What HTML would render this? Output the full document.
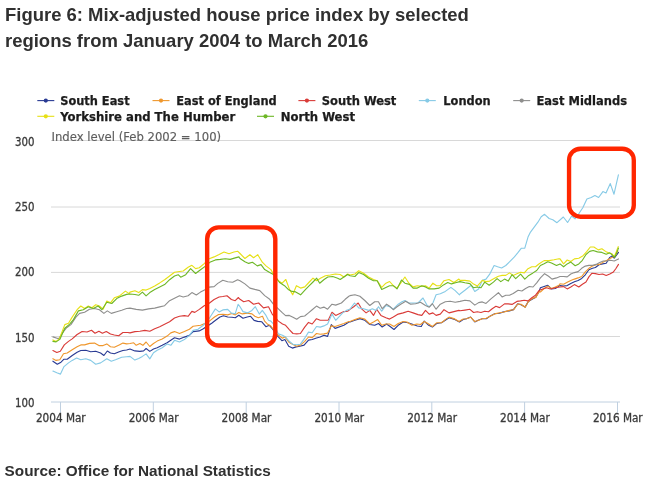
<!DOCTYPE html>
<html lang="en"><head><meta charset="utf-8"><title>Figure 6: Mix-adjusted house price index</title>
<style>
html,body{margin:0;padding:0;background:#fff;}
body{width:647px;height:485px;overflow:hidden;}
svg{display:block;}
.title{font-family:"Liberation Sans",Arial,Helvetica,sans-serif;font-weight:bold;font-size:18.48px;fill:#303030;}
.source{font-family:"Liberation Sans",Arial,Helvetica,sans-serif;font-weight:bold;font-size:15.3px;fill:#303030;}
.leg{font-family:"DejaVu Sans Condensed","DejaVu Sans","Liberation Sans",sans-serif;font-weight:bold;font-size:13px;fill:#1c1c1c;stroke:#1c1c1c;stroke-width:0.25;}
.ax{font-family:"DejaVu Sans Condensed","DejaVu Sans","Liberation Sans",sans-serif;font-size:11.5px;fill:#3a3a3a;stroke:#3a3a3a;stroke-width:0.28;}
.axt{font-family:"DejaVu Sans Condensed","DejaVu Sans","Liberation Sans",sans-serif;font-size:12.9px;fill:#5e5e5e;stroke:#5e5e5e;stroke-width:0.15;}
.ln{fill:none;stroke-width:1.12;stroke-linejoin:round;stroke-linecap:round;}
</style></head><body>
<svg width="647" height="485" viewBox="0 0 647 485">
<rect x="0" y="0" width="647" height="485" fill="#fff"/>
<text class="title" x="5" y="20.5">Figure 6: Mix-adjusted house price index by selected</text>
<text class="title" x="5" y="46.7">regions from January 2004 to March 2016</text>
<g>
<line x1="37.3" y1="100.6" x2="54.3" y2="100.6" stroke="#293A93" stroke-width="1.1"/>
<circle cx="45.8" cy="100.6" r="2.1" fill="#293A93"/>
<text class="leg" x="60.2" y="104.8" textLength="69.4" lengthAdjust="spacingAndGlyphs">South East</text>
<line x1="152.5" y1="100.6" x2="169.5" y2="100.6" stroke="#EF972D" stroke-width="1.1"/>
<circle cx="161.0" cy="100.6" r="2.1" fill="#EF972D"/>
<text class="leg" x="176.2" y="104.8" textLength="100.5" lengthAdjust="spacingAndGlyphs">East of England</text>
<line x1="298.4" y1="100.6" x2="315.4" y2="100.6" stroke="#D93B38" stroke-width="1.1"/>
<circle cx="306.9" cy="100.6" r="2.1" fill="#D93B38"/>
<text class="leg" x="321.7" y="104.8" textLength="74.7" lengthAdjust="spacingAndGlyphs">South West</text>
<line x1="418.8" y1="100.6" x2="435.8" y2="100.6" stroke="#86CAE6" stroke-width="1.1"/>
<circle cx="427.3" cy="100.6" r="2.1" fill="#86CAE6"/>
<text class="leg" x="443.3" y="104.8" textLength="47.4" lengthAdjust="spacingAndGlyphs">London</text>
<line x1="513.2" y1="100.6" x2="530.2" y2="100.6" stroke="#8E8E8D" stroke-width="1.1"/>
<circle cx="521.7" cy="100.6" r="2.1" fill="#8E8E8D"/>
<text class="leg" x="536.5" y="104.8" textLength="90.5" lengthAdjust="spacingAndGlyphs">East Midlands</text>
<line x1="37.3" y1="116.3" x2="54.3" y2="116.3" stroke="#E7E015" stroke-width="1.1"/>
<circle cx="45.8" cy="116.3" r="2.1" fill="#E7E015"/>
<text class="leg" x="60.2" y="120.5" textLength="175" lengthAdjust="spacingAndGlyphs">Yorkshire and The Humber</text>
<line x1="257.0" y1="116.3" x2="274.0" y2="116.3" stroke="#6DB726" stroke-width="1.1"/>
<circle cx="265.5" cy="116.3" r="2.1" fill="#6DB726"/>
<text class="leg" x="280.7" y="120.5" textLength="74.3" lengthAdjust="spacingAndGlyphs">North West</text>
</g>
<g stroke="#D8D8D8" stroke-width="1">
<line x1="51" y1="140.5" x2="620" y2="140.5"/>
<line x1="51" y1="207.0" x2="620" y2="207.0"/>
<line x1="51" y1="272.4" x2="620" y2="272.4"/>
<line x1="51" y1="336.5" x2="620" y2="336.5"/>
</g>
<text class="axt" x="51.5" y="141.2" textLength="169.6" lengthAdjust="spacingAndGlyphs">Index level (Feb 2002 = 100)</text>
<text class="ax" x="15.1" y="145.9" textLength="19.5" lengthAdjust="spacingAndGlyphs">300</text>
<text class="ax" x="15.1" y="210.7" textLength="19.5" lengthAdjust="spacingAndGlyphs">250</text>
<text class="ax" x="15.1" y="275.85" textLength="19.5" lengthAdjust="spacingAndGlyphs">200</text>
<text class="ax" x="15.1" y="341.6" textLength="19.5" lengthAdjust="spacingAndGlyphs">150</text>
<text class="ax" x="15.1" y="406.75" textLength="19.5" lengthAdjust="spacingAndGlyphs">100</text>
<g stroke="#C0D0E0" stroke-width="1">
<line x1="51" y1="402" x2="620" y2="402"/>
<line x1="60.5" y1="402" x2="60.5" y2="412.8"/>
<line x1="153.3" y1="402" x2="153.3" y2="412.8"/>
<line x1="246.2" y1="402" x2="246.2" y2="412.8"/>
<line x1="339.0" y1="402" x2="339.0" y2="412.8"/>
<line x1="431.8" y1="402" x2="431.8" y2="412.8"/>
<line x1="524.6" y1="402" x2="524.6" y2="412.8"/>
<line x1="617.5" y1="402" x2="617.5" y2="412.8"/>
</g>
<text class="ax" x="35.9" y="421.7" textLength="49.8" lengthAdjust="spacingAndGlyphs">2004 Mar</text>
<text class="ax" x="128.7" y="421.7" textLength="49.8" lengthAdjust="spacingAndGlyphs">2006 Mar</text>
<text class="ax" x="221.6" y="421.7" textLength="49.8" lengthAdjust="spacingAndGlyphs">2008 Mar</text>
<text class="ax" x="314.4" y="421.7" textLength="49.8" lengthAdjust="spacingAndGlyphs">2010 Mar</text>
<text class="ax" x="407.2" y="421.7" textLength="49.8" lengthAdjust="spacingAndGlyphs">2012 Mar</text>
<text class="ax" x="500.0" y="421.7" textLength="49.8" lengthAdjust="spacingAndGlyphs">2014 Mar</text>
<text class="ax" x="592.9" y="421.7" textLength="49.8" lengthAdjust="spacingAndGlyphs">2016 Mar</text>
<polyline class="ln" stroke="#293A93" points="52.9,361.2 57.3,364.2 61.0,362.2 64.0,359.2 67.2,359.2 72.2,355.5 77.1,352.3 80.8,350.5 85.8,350.3 90.7,351.8 95.7,351.3 100.6,353.0 103.9,355.5 107.3,351.0 110.5,353.0 114.3,353.8 119.2,351.8 122.9,350.5 126.6,350.0 130.0,349.0 134.9,350.9 139.9,351.4 143.6,350.9 146.1,348.5 149.8,351.4 153.5,349.0 157.2,347.7 162.2,345.3 167.1,342.8 170.8,340.3 174.5,337.8 179.5,339.1 184.4,337.1 189.4,335.4 193.1,331.6 199.2,330.9 203.3,328.8 207.5,326.0 211.7,323.2 215.9,320.0 220.0,317.0 223.5,315.8 227.7,317.0 231.9,317.2 235.3,317.7 238.8,315.3 243.0,318.3 247.2,317.0 250.6,316.3 254.1,320.4 257.6,321.4 261.8,321.8 265.9,326.7 269.4,325.3 272.9,329.5 277.1,335.7 281.9,340.7 284.9,339.5 288.7,346.3 292.4,348.1 296.1,346.9 299.8,346.3 304.1,345.1 308.5,340.1 312.2,339.5 316.5,338.0 320.2,337.0 323.9,335.2 327.6,336.4 331.3,324.6 335.1,328.4 343.9,325.3 348.9,322.0 350.0,322.0 354.9,320.3 359.9,318.6 364.8,320.3 369.8,324.5 374.7,325.3 378.5,323.5 382.2,327.0 386.6,324.0 390.1,326.5 394.0,329.5 398.2,325.3 403.2,322.0 408.1,322.8 413.1,324.5 417.3,326.0 421.3,326.5 424.2,321.1 428.7,325.3 432.4,327.0 436.6,323.5 441.5,322.8 445.3,320.3 449.0,317.8 453.9,319.1 459.4,322.0 463.2,319.5 466.5,318.7 470.6,317.0 474.8,322.0 478.1,320.3 482.2,318.7 486.3,318.7 490.4,315.9 494.6,313.7 499.5,313.2 502.8,312.1 506.1,311.3 509.4,310.9 513.5,309.6 517.7,303.8 521.0,304.7 525.1,307.1 528.4,301.4 532.5,298.9 535.8,297.2 539.1,291.5 540.4,287.8 544.1,286.5 547.8,285.3 551.5,289.0 555.3,288.5 559.0,286.1 560.0,285.6 563.6,286.0 567.2,285.6 570.8,283.4 574.4,281.7 578.1,280.5 581.7,278.4 585.3,274.8 588.9,269.7 592.5,268.3 595.4,267.5 599.0,264.7 602.6,263.9 606.2,263.2 609.8,257.4 612.0,256.0 614.2,258.2 616.3,255.3 618.5,252.4"/>
<polyline class="ln" stroke="#EF972D" points="52.9,358.7 56.1,360.4 59.8,359.7 63.5,353.8 67.2,353.0 72.2,349.8 77.1,346.8 80.8,344.9 84.6,344.9 89.5,343.4 94.5,343.1 98.9,345.6 103.1,345.6 106.8,343.9 110.5,346.8 114.3,347.3 119.2,344.9 122.9,343.1 126.6,343.9 130.0,343.5 133.7,342.8 136.2,345.3 139.9,343.5 142.9,345.3 146.1,342.0 149.8,346.5 153.5,343.5 157.2,341.1 162.2,339.1 167.1,336.1 170.8,332.9 174.5,331.6 179.5,333.6 184.4,331.6 189.4,329.2 193.1,326.2 200.6,325.3 205.4,323.2 210.3,320.4 214.5,317.0 218.6,314.5 222.8,314.2 227.7,314.9 231.9,313.5 235.3,314.9 238.8,312.5 242.3,313.9 247.2,313.1 252.0,313.9 254.8,316.3 258.3,317.7 262.5,316.3 264.6,321.1 267.3,323.9 270.8,326.0 273.6,329.5 277.1,334.3 282.5,338.2 284.9,336.8 289.3,342.6 293.0,344.4 296.7,346.3 300.4,345.1 304.7,341.3 308.5,337.0 312.2,337.6 316.5,333.5 320.2,334.3 323.9,333.9 327.6,333.1 331.3,325.9 335.1,326.5 343.9,323.5 348.9,321.5 350.0,321.5 354.9,319.6 359.9,317.8 364.8,319.1 369.8,324.0 373.5,322.0 377.7,319.6 381.7,325.3 385.9,324.0 389.6,324.0 394.0,326.5 398.2,323.5 403.2,321.5 406.9,322.0 411.9,325.3 416.8,324.0 420.5,324.5 424.2,321.5 427.9,323.5 432.4,326.5 436.6,322.8 441.5,322.8 445.3,319.6 449.0,317.1 453.9,318.6 458.9,321.5 463.2,319.0 466.5,318.8 470.6,317.2 474.8,321.5 478.1,320.5 482.2,318.8 486.3,318.2 490.4,316.0 494.6,313.9 499.5,312.7 502.8,312.2 506.1,311.4 509.4,310.4 513.5,309.8 517.7,304.0 521.0,304.2 525.1,307.3 528.4,301.5 532.5,298.4 535.8,297.4 539.1,291.6 540.4,292.0 544.1,288.5 547.8,286.1 551.5,288.5 555.3,287.0 559.0,285.3 560.0,283.7 563.6,284.2 567.2,282.3 570.8,280.5 574.4,279.1 578.1,277.9 581.7,276.5 585.3,271.9 588.9,268.3 592.5,266.1 596.1,264.7 599.7,264.4 603.3,262.1 606.9,260.3 610.5,258.2 613.4,256.7 615.6,255.3 617.8,250.9"/>
<polyline class="ln" stroke="#D93B38" points="52.9,350.5 56.8,352.5 60.3,351.3 64.3,344.9 68.5,341.4 72.2,338.9 77.1,334.5 82.1,331.5 87.0,332.0 91.5,330.2 95.0,333.2 98.9,331.2 102.4,333.2 106.3,331.5 110.5,334.0 114.3,335.0 118.7,335.7 122.9,332.5 127.9,332.5 130.0,332.9 134.9,331.6 139.9,331.2 144.8,330.4 149.8,331.2 154.7,328.7 159.7,326.7 164.6,324.2 169.6,321.8 174.5,318.0 179.5,316.3 184.4,315.6 188.1,316.3 191.9,311.4 194.8,312.4 199.3,309.4 204.2,305.7 209.2,303.2 214.1,299.5 219.1,297.0 222.8,296.5 227.0,295.8 231.4,299.5 235.2,300.7 238.4,297.5 240.0,299.3 243.7,301.8 248.7,300.5 253.6,304.2 258.6,303.0 263.5,307.9 268.5,306.7 272.2,314.1 278.4,321.1 282.5,324.0 285.6,325.3 289.3,329.6 293.0,333.5 296.7,333.9 300.4,333.5 304.7,327.1 308.5,322.4 312.2,324.0 316.5,318.7 320.2,320.3 323.9,320.3 328.2,320.3 332.0,312.3 335.7,315.4 343.9,311.6 347.6,311.2 350.0,309.2 353.7,306.7 358.2,303.0 361.9,309.2 366.1,312.9 369.8,310.4 373.5,315.4 376.7,309.2 380.9,315.4 385.9,317.8 389.6,319.1 393.3,317.1 398.2,314.1 403.2,312.9 408.1,311.2 413.1,312.9 418.0,314.6 421.8,315.4 425.5,310.4 429.2,314.1 432.9,312.9 436.1,315.4 440.3,314.1 444.0,309.7 449.0,312.9 453.9,311.6 458.9,310.4 460.0,310.8 464.9,310.1 469.9,309.3 473.6,312.5 477.3,311.8 481.0,312.5 484.7,311.3 488.5,311.8 492.2,308.8 495.9,306.3 499.6,307.6 504.5,303.9 508.2,303.9 512.0,304.4 516.9,301.4 520.6,300.9 524.3,300.2 528.0,300.9 531.8,297.7 535.5,295.2 539.2,290.3 542.9,289.0 546.6,287.8 550.3,289.0 555.3,287.8 560.0,287.0 563.6,286.6 567.2,288.9 570.8,287.0 574.4,284.6 578.8,287.0 582.4,284.2 586.0,282.0 588.9,276.9 591.8,273.3 595.4,273.6 599.0,274.5 602.6,274.0 606.2,275.5 609.8,274.0 613.4,271.9 615.6,269.0 618.5,264.4"/>
<polyline class="ln" stroke="#86CAE6" points="52.9,371.1 56.8,372.8 60.5,374.1 64.0,366.6 68.5,362.9 72.2,360.4 76.6,358.0 80.8,359.7 85.8,358.7 90.7,360.4 95.7,364.2 100.6,362.9 106.8,358.7 111.3,361.2 115.5,359.7 121.7,357.2 126.6,356.7 130.0,356.4 134.9,360.1 138.7,358.4 142.4,356.4 146.1,353.9 149.8,358.9 153.5,352.7 157.2,350.2 162.2,347.7 167.1,344.0 170.8,345.3 174.5,340.3 179.5,342.0 184.4,339.6 189.4,335.4 193.1,330.4 198.0,329.2 203.0,325.5 207.9,320.5 211.6,314.8 215.4,308.9 219.1,311.9 222.8,309.9 227.7,309.4 231.4,313.1 235.2,313.8 238.1,304.4 240.0,306.7 243.0,311.6 247.4,312.9 251.9,310.4 255.3,306.7 259.3,314.1 262.3,310.4 266.0,315.4 268.5,320.3 270.9,321.1 273.4,324.0 278.4,333.9 282.5,335.2 285.6,337.0 289.3,341.3 293.0,344.4 296.7,344.7 300.4,344.2 304.7,338.2 308.5,332.1 312.2,332.7 316.5,326.5 320.2,327.1 323.9,325.9 327.6,324.0 332.0,314.1 335.7,320.3 342.7,312.9 346.4,310.4 350.0,309.2 354.5,303.0 358.7,307.9 363.6,308.7 368.6,310.4 372.3,308.7 376.0,310.4 378.5,306.7 381.7,311.2 385.9,305.5 389.6,306.7 393.3,309.2 398.2,304.2 402.0,301.8 404.9,300.5 408.9,303.0 413.1,303.0 418.0,303.0 423.0,298.0 427.2,305.5 429.7,306.7 432.9,303.0 436.1,294.8 440.3,293.8 445.3,291.4 450.9,287.4 455.2,290.6 459.4,294.8 460.0,294.0 464.9,290.3 471.1,285.3 474.8,291.5 478.6,289.0 482.3,280.4 486.0,279.1 489.7,274.2 494.1,265.5 497.6,266.8 501.6,268.0 505.8,265.5 509.5,261.8 514.4,256.9 518.1,252.4 521.4,248.2 524.8,248.2 528.0,237.1 530.5,232.1 534.2,227.2 537.9,222.2 541.2,216.8 544.6,214.3 549.1,218.5 552.8,219.7 557.0,222.7 563.3,217.0 567.6,222.5 571.7,216.0 575.0,218.8 579.1,213.3 582.8,207.7 586.9,199.0 591.2,197.5 594.9,195.6 598.6,197.5 602.9,191.6 606.0,192.9 610.3,183.6 614.0,194.2 618.4,174.9"/>
<polyline class="ln" stroke="#8E8E8D" points="52.9,336.9 58.6,338.7 62.3,333.2 66.0,328.3 70.9,324.6 75.9,317.1 79.6,313.4 84.6,312.2 89.5,309.2 94.5,308.5 99.4,309.7 103.9,313.4 107.3,310.9 111.3,313.4 116.7,311.7 121.7,310.2 126.6,308.5 130.0,308.1 136.2,309.4 142.4,310.1 148.6,308.9 154.7,308.1 159.7,306.9 164.6,305.7 169.6,300.7 174.5,298.2 179.5,295.8 183.2,297.0 188.1,295.8 191.9,292.6 196.3,295.0 200.5,292.1 205.5,289.6 209.2,287.1 214.1,286.6 217.8,283.4 222.8,280.2 227.7,281.7 232.7,282.2 237.6,279.7 240.0,280.7 244.9,283.9 249.9,288.1 254.8,289.4 259.8,290.6 264.7,295.6 269.7,299.3 273.4,304.2 282.5,312.9 285.6,315.6 289.3,315.4 293.0,317.2 296.7,319.3 300.4,316.6 304.7,316.0 308.5,312.9 312.2,309.8 316.5,306.1 320.2,308.3 323.9,307.1 327.6,309.2 332.0,304.2 335.7,305.1 341.4,303.0 345.2,299.3 348.9,296.3 350.0,295.6 354.9,294.8 359.9,296.3 364.8,300.5 369.8,305.5 374.7,301.8 378.5,301.8 382.2,308.7 386.6,304.2 389.6,306.2 393.3,309.7 397.0,306.7 400.7,304.2 405.7,301.3 410.6,304.2 415.6,303.7 420.5,302.2 425.5,305.5 429.2,307.2 432.4,303.7 436.1,309.2 440.3,304.2 445.3,301.8 450.2,301.3 455.2,302.2 460.0,301.4 464.9,300.2 469.9,300.9 474.8,305.1 478.6,302.6 482.3,301.9 486.0,303.4 490.9,298.9 494.6,295.9 498.4,292.7 502.1,296.9 505.8,295.2 509.5,295.2 513.2,293.5 518.1,290.3 521.9,291.0 525.6,288.5 529.3,286.5 533.0,287.0 536.7,282.8 540.4,277.9 544.6,273.7 548.6,276.2 552.0,279.1 556.5,277.9 560.0,276.5 563.6,276.5 567.2,276.9 570.8,274.0 574.4,272.6 578.1,271.6 581.7,268.3 585.3,266.1 588.9,265.4 592.5,265.4 596.1,264.4 599.7,262.5 603.3,261.0 606.9,261.0 610.5,260.3 614.2,261.0 616.3,260.0 618.5,258.9"/>
<polyline class="ln" stroke="#E7E015" points="52.9,339.9 56.1,341.4 59.3,338.9 64.8,324.6 68.5,323.3 72.2,317.1 77.1,309.7 80.8,306.0 84.6,308.5 88.3,306.0 92.0,307.7 95.7,304.8 99.4,306.0 103.1,309.2 106.8,301.0 110.5,302.8 114.3,297.8 119.2,296.1 125.4,291.1 129.1,293.6 130.0,292.1 134.9,290.8 138.7,292.6 142.4,289.6 146.1,290.1 149.8,288.4 154.7,285.9 159.7,282.9 164.6,279.7 169.6,276.0 174.5,272.3 179.5,271.5 183.2,271.0 188.1,267.3 191.9,265.3 195.6,268.6 199.3,267.8 204.2,263.6 209.2,258.7 214.1,256.9 219.1,254.5 224.0,252.0 229.0,253.7 233.9,252.0 237.6,251.2 240.0,253.5 244.9,258.5 249.9,254.7 253.6,257.7 257.8,254.7 262.3,262.2 266.0,265.9 270.9,269.6 273.4,274.0 278.4,280.7 282.1,283.2 285.8,279.5 289.5,289.4 292.7,294.8 296.4,285.7 300.6,288.1 304.8,286.9 309.3,282.0 313.0,278.2 316.7,280.7 320.4,278.2 325.4,275.8 330.3,275.0 335.3,274.0 340.2,274.5 343.9,277.0 347.6,274.0 350.0,275.0 354.9,274.0 358.7,270.8 363.6,273.3 368.6,277.0 373.5,279.5 377.2,280.7 381.7,287.4 385.9,283.2 389.6,281.5 393.3,285.7 397.0,288.1 400.7,283.2 404.9,277.0 408.9,283.2 413.1,286.9 417.3,285.7 421.8,286.4 425.5,285.7 429.2,288.1 432.9,283.2 436.6,285.7 440.3,285.7 444.0,280.7 449.0,279.5 453.9,282.5 458.9,279.0 460.0,280.4 464.9,280.4 469.9,281.1 473.6,284.1 477.3,286.1 482.3,280.4 486.0,281.6 489.7,281.1 494.1,278.6 498.4,276.2 502.1,275.4 505.8,275.4 509.5,272.9 513.2,275.4 516.9,273.7 520.6,272.2 524.3,272.9 528.0,268.7 531.8,266.8 535.5,266.8 539.2,263.8 544.1,260.6 549.1,260.6 554.0,259.8 559.0,258.8 560.0,258.9 563.6,263.9 567.2,260.0 570.8,261.5 574.4,258.9 578.8,258.2 583.1,255.7 586.7,251.7 590.3,247.0 593.9,247.0 598.3,249.9 601.9,248.8 605.5,251.4 609.1,253.1 612.0,253.8 614.2,256.7 616.3,251.7 618.2,246.6"/>
<polyline class="ln" stroke="#6DB726" points="52.9,341.4 56.1,341.9 59.8,339.4 64.8,328.3 69.7,324.1 73.4,319.6 78.4,310.9 83.3,309.7 88.3,306.7 93.2,308.5 98.2,306.0 101.9,309.7 106.8,302.3 111.8,303.5 116.7,298.6 121.7,296.1 126.6,294.4 130.0,294.0 134.9,294.5 138.7,295.3 142.4,292.1 146.1,295.8 149.8,292.6 154.7,289.6 159.7,287.1 164.6,284.6 169.6,279.7 174.5,276.0 178.2,274.7 180.7,277.2 185.7,274.7 190.6,268.6 195.6,273.5 200.5,269.8 205.5,266.1 210.4,261.9 215.4,259.9 220.3,259.4 225.3,258.7 230.2,259.4 235.2,257.9 238.9,256.9 240.0,258.5 244.9,261.7 248.7,263.4 252.4,262.2 257.3,265.9 261.0,264.6 264.7,269.6 269.7,272.6 273.4,274.5 279.6,282.5 284.5,285.7 288.2,289.4 292.0,291.4 295.7,291.9 300.6,294.8 305.6,289.4 309.3,285.7 313.0,282.0 316.7,278.2 319.7,283.2 324.1,279.5 327.8,277.0 332.8,276.5 337.7,278.2 340.2,279.5 343.9,277.0 347.6,274.5 350.0,275.8 354.9,276.5 358.7,272.6 363.6,274.5 368.6,278.2 373.5,280.7 377.2,280.7 381.7,289.4 385.9,287.4 389.6,285.7 393.3,285.7 397.0,288.9 401.5,280.0 404.9,283.2 409.4,284.4 413.1,288.1 417.3,288.1 421.8,285.7 425.5,286.9 429.2,288.9 434.1,288.9 439.1,288.1 443.5,284.9 447.7,282.5 451.4,283.9 456.4,282.5 460.0,281.6 464.9,282.8 469.9,283.6 473.6,287.8 477.3,287.0 481.0,287.8 484.7,282.1 489.2,285.3 493.4,282.1 497.1,278.6 500.8,281.6 504.5,279.1 508.2,281.1 512.0,274.7 515.7,278.6 520.6,274.2 524.8,279.1 528.8,275.4 533.0,272.9 536.7,270.5 540.4,265.5 544.1,263.8 547.8,261.8 551.5,263.0 556.5,265.5 560.0,263.9 563.6,266.8 567.2,263.9 570.8,262.1 575.2,265.8 578.8,263.9 582.4,260.3 586.0,254.5 589.6,251.4 593.2,250.5 597.5,251.9 601.9,252.4 606.2,254.3 609.8,252.8 612.7,255.3 614.6,257.4 616.6,253.1 618.5,248.1"/>
<rect x="207.15" y="227.4" width="68.15" height="118.1" rx="11.5" ry="11.5" fill="none" stroke="#FF2600" stroke-width="4.4"/>
<rect x="569.05" y="148.7" width="64.75" height="68" rx="11.5" ry="11.5" fill="none" stroke="#FF2600" stroke-width="4.35"/>
<text class="source" x="4.6" y="475.5">Source: Office for National Statistics</text>
</svg></body></html>
